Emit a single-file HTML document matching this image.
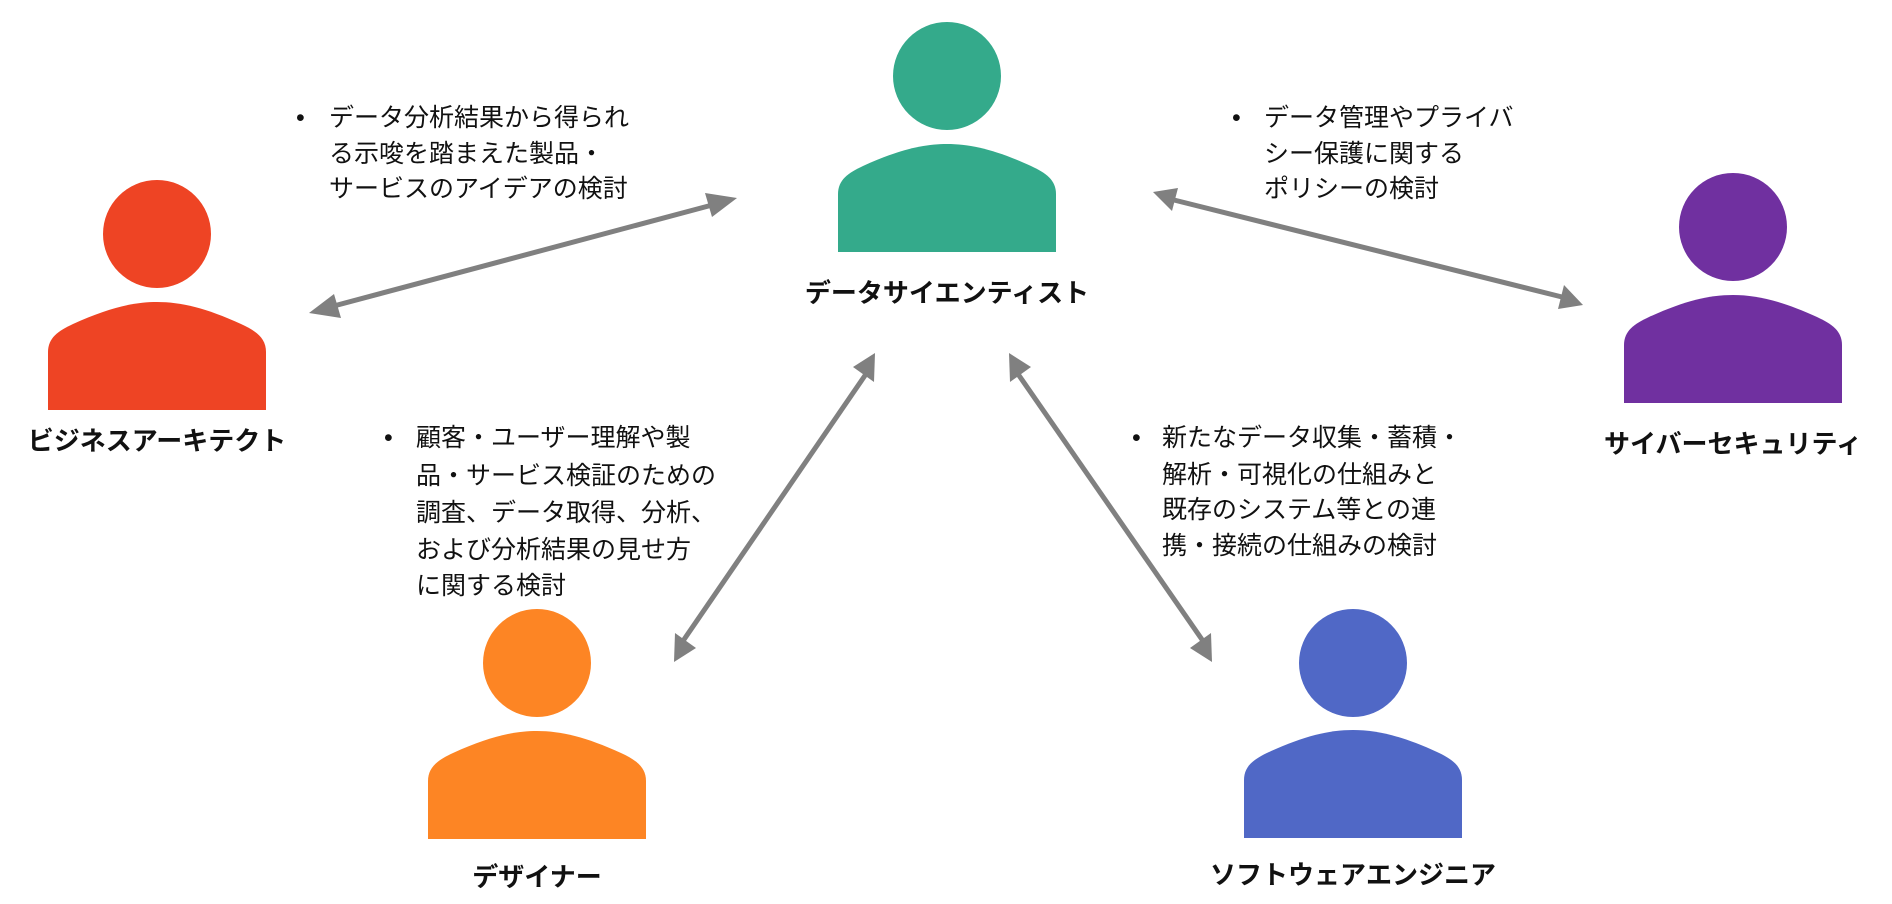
<!DOCTYPE html>
<html><head><meta charset="utf-8"><style>
html,body{margin:0;padding:0;background:#fff;width:1892px;height:904px;overflow:hidden}
svg{display:block}
text{font-family:"Liberation Sans","Noto Sans CJK JP",sans-serif;fill:#111}
.b{font-weight:bold;font-size:26px;text-anchor:middle}
.t{font-size:25px}
</style></head><body>
<svg width="1892" height="904" viewBox="0 0 1892 904" xmlns="http://www.w3.org/2000/svg">
<defs>
<path id="body" d="M0,108 L0,50 C0,36 10,29 25,22 C60,6 85,0 109,0 C133,0 158,6 193,22 C208,29 218,36 218,50 L218,108 Z"/>
</defs>
<g fill="#EE4424"><ellipse cx="157" cy="234" rx="54" ry="54"/><use href="#body" x="48" y="302"/></g>
<g fill="#34AA8B"><ellipse cx="947" cy="76" rx="54" ry="54"/><use href="#body" x="838" y="144"/></g>
<g fill="#7030A0"><ellipse cx="1733" cy="227" rx="54" ry="54"/><use href="#body" x="1624" y="295"/></g>
<g fill="#FD8524"><ellipse cx="537" cy="663" rx="54" ry="54"/><use href="#body" x="428" y="731"/></g>
<g fill="#5068C6"><ellipse cx="1353" cy="663" rx="54" ry="54"/><use href="#body" x="1244" y="730"/></g>

<g stroke="#808080" stroke-width="5" fill="none">
<line x1="330" y1="307" x2="716" y2="204"/>
<line x1="1174" y1="200" x2="1562" y2="297"/>
<line x1="866" y1="374" x2="683" y2="641"/>
<line x1="1018" y1="374" x2="1203" y2="641"/>
</g>
<g fill="#808080">
<polygon points="309,313 334,294 341,318"/>
<polygon points="737,198 712,217 705,193"/>
<polygon points="1153,192 1172,211 1178,188"/>
<polygon points="1583,305 1558,309 1564,285"/>
<polygon points="875,353 874,382 853,367"/>
<polygon points="674,662 675,633 696,648"/>
<polygon points="1009,353 1031,367 1010,382"/>
<polygon points="1212,662 1190,648 1211,633"/>
</g>

<text class="b" x="157" y="450">ビジネスアーキテクト</text>
<text class="b" x="947" y="302">データサイエンティスト</text>
<text class="b" x="1733" y="453">サイバーセキュリティ</text>
<text class="b" x="537" y="886">デザイナー</text>
<text class="b" x="1353" y="884">ソフトウェアエンジニア</text>

<g class="t">
<text x="296" y="126">•</text>
<text x="329" y="126">データ分析結果から得られ</text>
<text x="329" y="162">る示唆を踏まえた製品・</text>
<text x="329" y="197">サービスのアイデアの検討</text>

<text x="1232" y="126">•</text>
<text x="1264" y="126">データ管理やプライバ</text>
<text x="1264" y="162">シー保護に関する</text>
<text x="1264" y="197">ポリシーの検討</text>

<text x="384" y="446">•</text>
<text x="416" y="446">顧客・ユーザー理解や製</text>
<text x="416" y="484">品・サービス検証のための</text>
<text x="416" y="521">調査、データ取得、分析、</text>
<text x="416" y="558">および分析結果の見せ方</text>
<text x="416" y="594">に関する検討</text>

<text x="1132" y="446">•</text>
<text x="1162" y="446">新たなデータ収集・蓄積・</text>
<text x="1162" y="483">解析・可視化の仕組みと</text>
<text x="1162" y="518">既存のシステム等との連</text>
<text x="1162" y="554">携・接続の仕組みの検討</text>
</g>
</svg>
</body></html>
